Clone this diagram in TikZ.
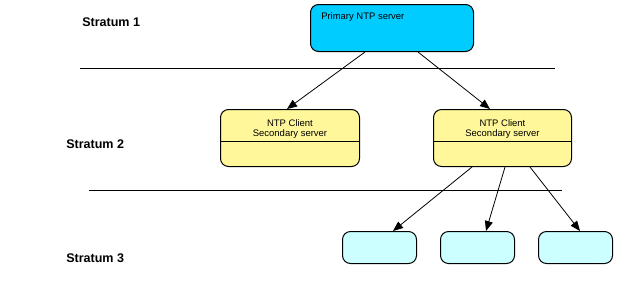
\documentclass[tikz,border=0pt]{standalone}
\usepackage{fontspec}
\setmainfont{Liberation Sans}
\usetikzlibrary{calc,arrows.meta}
\definecolor{primcyan}{HTML}{00CCFF}
\definecolor{secyellow}{HTML}{FFF799}
\definecolor{leafcyan}{HTML}{CCFFFF}
\begin{document}
\begin{tikzpicture}[x=0.75pt,y=-0.75pt,
  box/.style={draw=black,line width=0.75pt,rounded corners=6pt,inner sep=0pt,anchor=north west},
  boxtext/.style={font=\fontsize{7.1}{8.3}\selectfont,inner sep=0pt,align=center},
  stratlabel/.style={font=\bfseries\fontsize{9.4}{11}\selectfont,inner sep=0pt,anchor=west},
  rule/.style={line width=0.75pt},
  conn/.style={line width=0.6pt,-{Triangle[length=7.5pt,width=6pt]}}]
\useasboundingbox (0,0) rectangle (641,283);
% stratum labels
\node[stratlabel] (s1) at (82,22) {Stratum 1};
\node[stratlabel] (s2) at (66,144) {Stratum 2};
\node[stratlabel] (s3) at (66,258) {Stratum 3};
% separators
\coordinate (r1a) at (80,68);
\coordinate (r1b) at (555,68);
\coordinate (r2a) at (89,190);
\coordinate (r2b) at (562,190);
\draw[rule] (r1a) -- (r1b);
\draw[rule] (r2a) -- (r2b);
% primary
\node[box,fill=primcyan,minimum width=163*0.75pt,minimum height=47*0.75pt] (p) at (310,4) {};
\node[boxtext,anchor=west] (ptext) at (321,17) {Primary NTP server};
% secondary
\node[box,fill=secyellow,minimum width=139*0.75pt,minimum height=57*0.75pt] (l) at (220,109) {};
\node[box,fill=secyellow,minimum width=138*0.75pt,minimum height=57*0.75pt] (r) at (433,109) {};
\draw[line width=0.75pt] ($(l.north west)+(0,32)$) -- ($(l.north east)+(0,32)$);
\draw[line width=0.75pt] ($(r.north west)+(0,32)$) -- ($(r.north east)+(0,32)$);
\node[boxtext] (ltext) at ($(l.north)+(0,20)$) {NTP Client\\[-0.5pt]Secondary server};
\node[boxtext] (rtext) at ($(r.north)+(0,20)$) {NTP Client\\[-0.5pt]Secondary server};
% stratum 3
\node[box,fill=leafcyan,minimum width=74*0.75pt,minimum height=32*0.75pt] (c1) at (342,231) {};
\node[box,fill=leafcyan,minimum width=74*0.75pt,minimum height=32*0.75pt] (c2) at (440,231) {};
\node[box,fill=leafcyan,minimum width=74*0.75pt,minimum height=32*0.75pt] (c3) at (538,231) {};
% connectors
\draw[conn] ($(p.south west)+(55,0)$) -- ($(l.north west)+(67,0)$);
\draw[conn] ($(p.south west)+(108,0)$) -- ($(r.north west)+(57,0)$);
\draw[conn] ($(r.south west)+(39,0)$) -- ($(c1.north west)+(51,0)$);
\draw[conn] ($(r.south west)+(72,0)$) -- ($(c2.north west)+(46,0)$);
\draw[conn] ($(r.south west)+(97,0)$) -- ($(c3.north west)+(42,0)$);
\end{tikzpicture}
\end{document}
